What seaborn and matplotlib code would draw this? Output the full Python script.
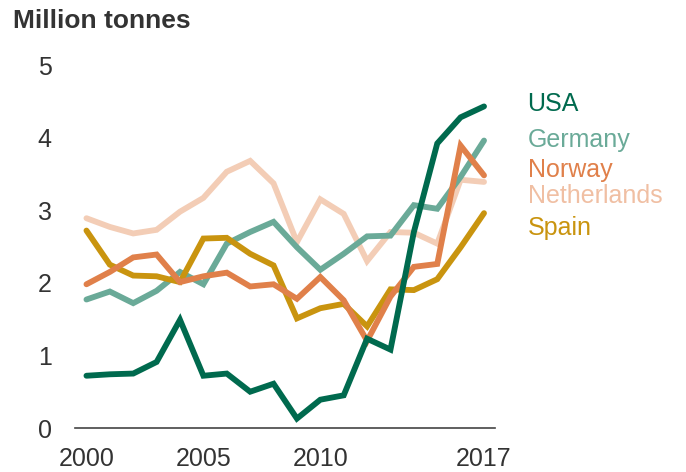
import numpy as np
import pandas as pd
import matplotlib
matplotlib.use("Agg")
import matplotlib.pyplot as plt
import seaborn as sns

years = list(range(2000, 2018))
countries = ["USA", "Germany", "Norway", "Netherlands", "Spain"]

usa = [0.72, 0.74, 0.75, 0.91, 1.49, 0.72, 0.75, 0.50, 0.61, 0.13,
       0.39, 0.45, 1.23, 1.08, 2.70, 3.92, 4.28, 4.43]
germany = [1.77, 1.88, 1.72, 1.89, 2.15, 1.98, 2.54, 2.70, 2.84, 2.49,
           2.18, 2.40, 2.64, 2.65, 3.07, 3.02, 3.46, 3.96]
norway = [1.98, 2.15, 2.35, 2.39, 2.01, 2.09, 2.14, 1.95, 1.98, 1.78,
          2.08, 1.76, 1.20, 1.81, 2.22, 2.26, 3.89, 3.48]
netherlands = [2.89, 2.77, 2.68, 2.73, 2.98, 3.17, 3.53, 3.68, 3.37, 2.56,
               3.15, 2.95, 2.30, 2.70, 2.69, 2.54, 3.42, 3.39]
spain = [2.72, 2.25, 2.10, 2.09, 2.01, 2.61, 2.62, 2.40, 2.24, 1.51,
         1.65, 1.71, 1.40, 1.91, 1.90, 2.05, 2.49, 2.96]

colors = {
    "USA": "#006a4e",
    "Germany": "#6aaa98",
    "Norway": "#e0804a",
    "Netherlands": "#f3cdb6",
    "Spain": "#c9940f",
}
# where each country name sits, next to the lines
label_y = {"USA": 4.46, "Germany": 3.97, "Norway": 3.56, "Netherlands": 3.20, "Spain": 2.76}
label_colors = {"USA": "#006a4e", "Germany": "#6aaa98", "Norway": "#e0804a",
                "Netherlands": "#f0bfa3", "Spain": "#c9940f"}

values = {"USA": usa, "Germany": germany, "Norway": norway,
          "Netherlands": netherlands, "Spain": spain}
df = pd.DataFrame([(c, y, v) for c in countries for y, v in zip(years, values[c])],
                  columns=["country", "year", "value"])

sns.set_theme(style="white")
plt.rcParams["font.family"] = ["Liberation Sans", "DejaVu Sans"]

fig = plt.figure(figsize=(6.86, 4.72), dpi=100)
ax = fig.add_axes([0.110, 0.0932, 0.6116, 0.769])

draw_order = ["Netherlands", "Germany", "Spain", "Norway", "USA"]
sns.lineplot(data=df, x="year", y="value", hue="country", hue_order=draw_order,
             palette=colors, linewidth=4.2, legend=False, ax=ax, clip_on=False,
             solid_capstyle="round", solid_joinstyle="miter")

ax.set_xlim(1999.53, 2017.47)
ax.set_ylim(0, 5)
ax.set_xticks([2000, 2005, 2010, 2017])
ax.set_yticks([0, 1, 2, 3, 4, 5])
ax.set_xlabel("")
ax.set_ylabel("")
for s in ["top", "right", "left"]:
    ax.spines[s].set_visible(False)
ax.spines["bottom"].set_color("#444444")
ax.spines["bottom"].set_linewidth(1.2)
ax.tick_params(axis="both", length=0, labelsize=18, colors="#333333")
ax.tick_params(axis="y", pad=17)
ax.tick_params(axis="x", pad=14)

for c in countries:
    ax.text(2018.86, label_y[c], c, color=label_colors[c], fontsize=18,
            ha="left", va="center", clip_on=False)

fig.text(0.019, 0.955, "Million tonnes", fontsize=19, fontweight="bold",
         color="#333333", ha="left", va="center")

fig.savefig("out.png", dpi=100)
